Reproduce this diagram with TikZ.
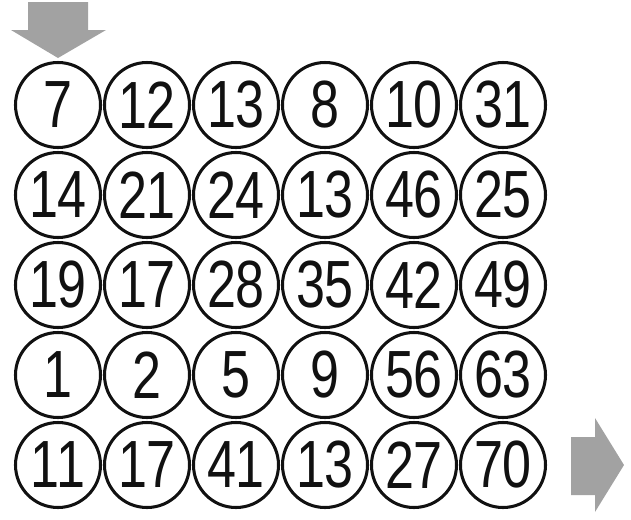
\documentclass[tikz,border=0pt]{standalone}
\usepackage{fontspec}
\newfontfamily\digitfont[FakeStretch=0.78]{Liberation Sans}
\usepackage{tikz}
\usetikzlibrary{positioning}
\definecolor{Ink}{HTML}{111111}
\definecolor{Pointer}{HTML}{A2A2A2}
\tikzset{
  ring/.style={circle,draw=Ink,line width=2.6pt,minimum size=2.55cm,inner sep=0pt,text=Ink,font=\digitfont\fontsize{57}{57}\selectfont},
  pointer/.style={fill=Pointer,draw=none}
}

\begin{document}
\begin{tikzpicture}[x=0.03cm,y=-0.03cm]
  \useasboundingbox (0,0) rectangle (631,519);
  % start / finish
  \fill[pointer] (28,2) -- (88,2) -- (88,30) -- (106,30) -- (58,58) -- (11,30) -- (28,30) -- cycle;
  \fill[pointer] (571,437) -- (595,437) -- (595,418) -- (624,465) -- (595,512) -- (595,495) -- (571,495) -- cycle;
  % row 1
  \node[ring] (r1c1) at (58,105) {7};
  \node[ring] (r1c2) at (147,105) {12};
  \node[ring] (r1c3) at (236,105) {13};
  \node[ring] (r1c4) at (325,105) {8};
  \node[ring] (r1c5) at (414,105) {10};
  \node[ring] (r1c6) at (503,105) {31};
  % row 2
  \node[ring] (r2c1) at (58,195) {14};
  \node[ring] (r2c2) at (147,195) {21};
  \node[ring] (r2c3) at (236,195) {24};
  \node[ring] (r2c4) at (325,195) {13};
  \node[ring] (r2c5) at (414,195) {46};
  \node[ring] (r2c6) at (503,195) {25};
  % row 3
  \node[ring] (r3c1) at (58,285) {19};
  \node[ring] (r3c2) at (147,285) {17};
  \node[ring] (r3c3) at (236,285) {28};
  \node[ring] (r3c4) at (325,285) {35};
  \node[ring] (r3c5) at (414,285) {42};
  \node[ring] (r3c6) at (503,285) {49};
  % row 4
  \node[ring] (r4c1) at (58,375) {1};
  \node[ring] (r4c2) at (147,375) {2};
  \node[ring] (r4c3) at (236,375) {5};
  \node[ring] (r4c4) at (325,375) {9};
  \node[ring] (r4c5) at (414,375) {56};
  \node[ring] (r4c6) at (503,375) {63};
  % row 5
  \node[ring] (r5c1) at (58,465) {11};
  \node[ring] (r5c2) at (147,465) {17};
  \node[ring] (r5c3) at (236,465) {41};
  \node[ring] (r5c4) at (325,465) {13};
  \node[ring] (r5c5) at (414,465) {27};
  \node[ring] (r5c6) at (503,465) {70};
\end{tikzpicture}
\end{document}
